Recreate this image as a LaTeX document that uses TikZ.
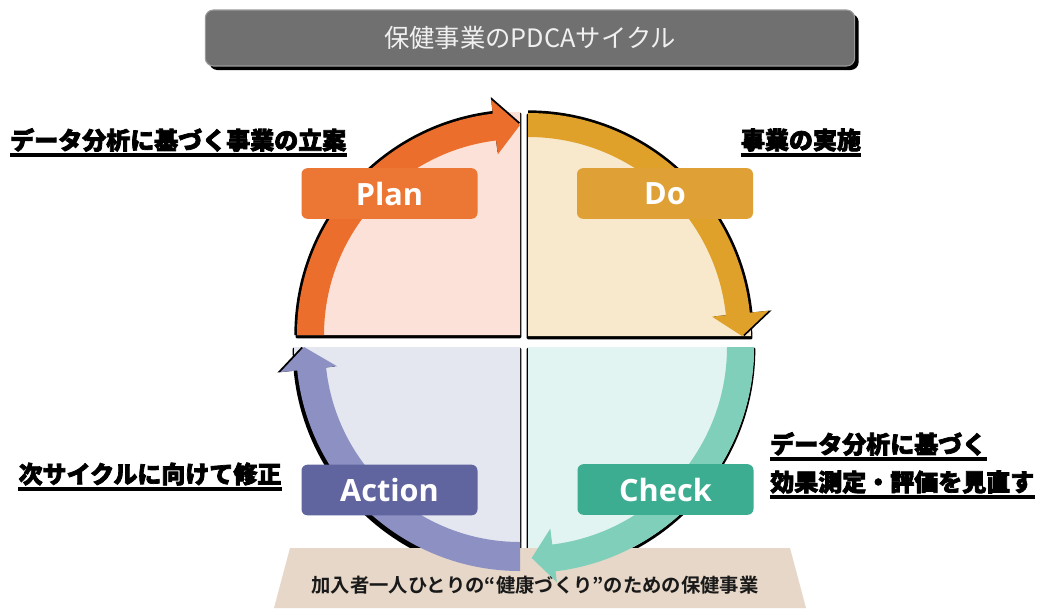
\documentclass[tikz,border=0pt]{standalone}
\usepackage{fontspec}
\usetikzlibrary{shadows}
\newfontfamily\jpblk{Noto Sans CJK JP Black}[FakeBold=3]
\newfontfamily\jpbold{Noto Sans CJK JP Bold}
\newfontfamily\jpreg{Noto Sans CJK JP}
\newfontfamily\lat{Open Sans}
\definecolor{plq}{HTML}{FBE1D7}
\definecolor{doq}{HTML}{F8E9CD}
\definecolor{chq}{HTML}{E1F4F1}
\definecolor{acq}{HTML}{E4E6F0}
\definecolor{pla}{HTML}{EC6E2C}
\definecolor{doa}{HTML}{E0A12B}
\definecolor{cha}{HTML}{80CFBB}
\definecolor{aca}{HTML}{8C90C3}
\definecolor{plb}{HTML}{EC7634}
\definecolor{dob}{HTML}{DFA036}
\definecolor{chb}{HTML}{3CAD90}
\definecolor{acb}{HTML}{60649F}
\definecolor{titlebg}{HTML}{707070}
\definecolor{titleedge}{HTML}{9A9A9A}
\definecolor{titletext}{HTML}{F0F0F0}
\definecolor{bannerbg}{HTML}{E6D7C8}
\tikzset{
  qshadow/.style={fill=black, draw=black, line width=2pt, line join=round},
  ashadow/.style={fill=black, scale=1.012},
  pbox/.style={rounded corners=4.5pt, minimum width=132pt, minimum height=38pt, text=white,
    font=\lat\bfseries\fontsize{23}{23}\selectfont, inner sep=0pt},
  jl/.style={font=\jpblk\fontsize{18}{18}\selectfont, inner sep=0pt, text=black},
  ul/.style={line width=3.2pt, black},
}
\begin{document}
\begin{tikzpicture}[x=0.75pt,y=-0.75pt]
\useasboundingbox (0,0) rectangle (1048,608);
\fill[white] (0,0) rectangle (1048,608);

% title bar
\node[fill=titlebg, draw=titleedge, line width=0.8pt, rounded corners=6pt,
  minimum width=487pt, minimum height=42pt,
  drop shadow={shadow xshift=3pt, shadow yshift=-3pt, fill=black, opacity=1},
  text=titletext, font=\jpreg\fontsize{19}{19}\selectfont] (title) at (530,38) {保健事業のPDCAサイクル};

% quadrants: shadows and fills
\begin{scope}[shift={(520,335)}]
  \filldraw[qshadow] (0,2) -- ++(180:223) arc[start angle=180,end angle=270,radius=223] -- cycle;
  \fill[plq] (0,0) -- (180:223) arc[start angle=180,end angle=270,radius=223] -- cycle;
\end{scope}
\begin{scope}[shift={(528,336)}]
  \filldraw[qshadow] (0,2) -- ++(270:223) arc[start angle=270,end angle=360,radius=223] -- cycle;
  \fill[doq] (0,0) -- (270:223) arc[start angle=270,end angle=360,radius=223] -- cycle;
\end{scope}
\begin{scope}[shift={(528,347)}]
  \filldraw[qshadow] (0,2) -- ++(0:226) arc[start angle=0,end angle=90,radius=226] -- cycle;
  \fill[chq] (0,0) -- (0:226) arc[start angle=0,end angle=90,radius=226] -- cycle;
\end{scope}
\begin{scope}[shift={(520,347)}]
  \filldraw[qshadow] (0,2) -- ++(90:226) arc[start angle=90,end angle=180,radius=226] -- cycle;
  \fill[acq] (0,0) -- (90:226) arc[start angle=90,end angle=180,radius=226] -- cycle;
\end{scope}

% arrow shadows
\begin{scope}[shift={(520,335)}]
  \fill[ashadow] (180:223) arc[start angle=180,end angle=263,radius=223] -- (263:237) -- (270:210) -- (263:182) -- (263:196) arc[start angle=263,end angle=180,radius=196] -- cycle;
\end{scope}
\begin{scope}[shift={(528,336)}]
  \fill[ashadow] (270:223) arc[start angle=270,end angle=354,radius=223] -- (354:242) -- (360:214) -- (354:185) -- (354:199) arc[start angle=354,end angle=270,radius=199] -- cycle;
\end{scope}
\begin{scope}[shift={(520,347)}]
  \fill[ashadow] (90:224) arc[start angle=90,end angle=174,radius=224] -- (174:241) -- (180:216) -- (174:184) -- (174:195) arc[start angle=174,end angle=90,radius=195] -- cycle;
\end{scope}

% banner
\fill[bannerbg] (290,548) -- (790,548) -- (806,608) -- (274,608) -- cycle;
\node[font=\jpbold\fontsize{14.5}{14.5}\selectfont, text=black!90, inner sep=0pt] (banner) at (535,585)
  {加入者一人ひとりの“健康づくり”のための保健事業};

% arrows
\begin{scope}[shift={(520,335)}]
  \fill[pla] (180:223) arc[start angle=180,end angle=263,radius=223] -- (263:237) -- (270:210) -- (263:182) -- (263:196) arc[start angle=263,end angle=180,radius=196] -- cycle;
\end{scope}
\begin{scope}[shift={(528,336)}]
  \fill[doa] (270:223) arc[start angle=270,end angle=354,radius=223] -- (354:242) -- (360:214) -- (354:185) -- (354:199) arc[start angle=354,end angle=270,radius=199] -- cycle;
\end{scope}
\begin{scope}[shift={(528,347)}]
  \fill[cha] (0:226) arc[start angle=0,end angle=83,radius=226] -- (83:237) -- (89:211) -- (83:183) -- (83:199) arc[start angle=83,end angle=0,radius=199] -- cycle;
\end{scope}
\begin{scope}[shift={(520,347)}]
  \fill[aca] (90:224) arc[start angle=90,end angle=174,radius=224] -- (174:241) -- (180:216) -- (174:184) -- (174:195) arc[start angle=174,end angle=90,radius=195] -- cycle;
\end{scope}

% phase boxes
\node[pbox, fill=plb] (plan) at (389.5,193.5) {Plan};
\node[pbox, fill=dob] (do) at (665,193.5) {Do};
\node[pbox, fill=chb] (check) at (665.5,489.5) {Check};
\node[pbox, fill=acb] (action) at (389.5,490) {Action};

% side labels
\node[jl, anchor=west] (lplan) at (10,140) {データ分析に基づく事業の立案};
\draw[ul] ([yshift=-2.2pt]lplan.south west) -- ([yshift=-2.2pt]lplan.south east);
\node[jl] (ldo) at (801,140) {事業の実施};
\draw[ul] ([yshift=-2.2pt]ldo.south west) -- ([yshift=-2.2pt]ldo.south east);
\node[jl] (lact) at (150,474) {次サイクルに向けて修正};
\draw[ul] ([yshift=-2.2pt]lact.south west) -- ([yshift=-2.2pt]lact.south east);
\node[jl, anchor=west] (lchk1) at (770,444) {データ分析に基づく};
\draw[ul] ([yshift=-2.2pt]lchk1.south west) -- ([yshift=-2.2pt]lchk1.south east);
\node[jl, anchor=west] (lchk2) at (770,482) {効果測定・評価を見直す};
\draw[ul] ([yshift=-2.2pt]lchk2.south west) -- ([yshift=-2.2pt]lchk2.south east);
\end{tikzpicture}
\end{document}
